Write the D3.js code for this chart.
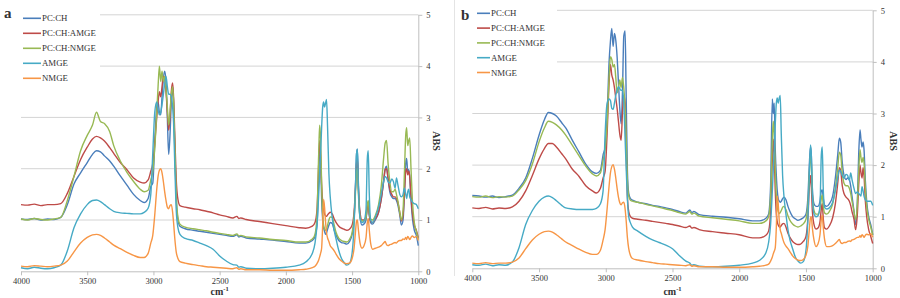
<!DOCTYPE html>
<html>
<head>
<meta charset="utf-8">
<script src="https://cdn.jsdelivr.net/npm/d3@7"></script>
<style>
  body { margin: 0; background: #fff; }
  text { font-family: "Liberation Serif", "Times New Roman", serif; fill: #333; }
</style>
</head>
<body>
<div id="chart"></div>
<script>
// wavenumber grid shared by both panels (cm-1)
const wavenumbers = [
  4000, 3950, 3900, 3850, 3800, 3750, 3700, 3650, 3600, 3550, 3500, 3460, 3430, 3400, 3370, 3330, 3300, 3250, 3200, 3150, 3100, 3070, 3040, 3020,
  3005, 2990, 2975, 2965, 2955, 2945, 2935, 2925, 2915, 2905, 2895, 2885, 2875, 2865, 2855, 2848, 2838, 2828, 2815, 2800,
  2760, 2700, 2650, 2600, 2550, 2500, 2450, 2400, 2370, 2355, 2340, 2300, 2200, 2100, 2000, 1900, 1850, 1800,
  1780, 1765, 1752, 1745, 1738, 1730, 1722, 1715, 1708, 1700, 1693, 1685, 1675, 1665, 1650, 1635, 1620, 1600, 1580, 1560, 1540, 1520, 1500,
  1485, 1475, 1466, 1460, 1452, 1440, 1425, 1410, 1395, 1385, 1378, 1370, 1360, 1345, 1325, 1300, 1280, 1262, 1250, 1240,
  1228, 1215, 1200, 1188, 1175, 1165, 1155, 1140, 1128, 1115, 1105, 1095, 1088, 1080, 1072, 1065, 1055, 1045, 1030, 1015, 1000
];

const seriesNames = ['PC:CH', 'PC:CH:AMGE', 'PC:CH:NMGE', 'AMGE', 'NMGE'];
const seriesColors = ['#4a7ebb', '#be4b48', '#98b954', '#46aac5', '#f79646'];
const xTicks = [4000, 3500, 3000, 2500, 2000, 1500, 1000];
const yTicks = [0, 1, 2, 3, 4, 5];

// panel a
const aPcCh = [
  1.02, 1.01, 1.03, 1.00, 1.02, 1.01, 1.05, 1.30, 1.70, 1.92, 2.12, 2.28, 2.35, 2.33, 2.25, 2.15, 2.05, 1.86, 1.68, 1.50, 1.38, 1.34, 1.42, 1.65,
  1.72, 2.50, 3.20, 3.30, 3.10, 3.05, 3.40, 3.75, 3.90, 3.70, 3.00, 2.28, 2.65, 3.30, 3.60, 3.30, 2.30, 1.45, 1.00, 0.88,
  0.83, 0.80, 0.78, 0.76, 0.74, 0.72, 0.70, 0.68, 0.71, 0.67, 0.68, 0.65, 0.63, 0.61, 0.58, 0.55, 0.55, 0.60,
  0.68, 0.90, 1.80, 2.45, 2.20, 1.40, 1.00, 0.85, 0.78, 0.72, 0.75, 0.82, 0.90, 0.95, 0.93, 0.80, 0.70, 0.60, 0.56, 0.55, 0.53, 0.58, 0.72,
  1.00, 1.60, 2.30, 2.38, 1.70, 1.05, 0.90, 0.92, 1.00, 1.25, 1.32, 1.10, 0.95, 0.92, 1.00, 1.15, 1.40, 1.75, 2.00, 2.05,
  1.80, 1.55, 1.45, 1.42, 1.42, 1.38, 1.30, 1.10, 0.90, 1.00, 1.50, 2.10, 2.20, 1.95, 1.98, 1.85, 1.40, 1.05, 0.80, 0.70, 0.50
];
const aPcChAmge = [
  1.30, 1.29, 1.31, 1.28, 1.30, 1.30, 1.32, 1.52, 1.85, 2.18, 2.42, 2.58, 2.63, 2.60, 2.54, 2.41, 2.30, 2.12, 1.98, 1.82, 1.74, 1.72, 1.78, 1.95,
  2.10, 2.50, 3.00, 3.30, 3.50, 3.40, 3.60, 3.80, 3.75, 3.50, 3.10, 2.75, 3.00, 3.50, 3.67, 3.40, 2.60, 1.80, 1.40, 1.28,
  1.25, 1.22, 1.20, 1.17, 1.14, 1.10, 1.07, 1.04, 1.07, 1.03, 1.04, 1.01, 0.97, 0.93, 0.89, 0.85, 0.84, 0.88,
  0.95, 1.20, 2.10, 2.55, 2.30, 1.70, 1.35, 1.20, 1.12, 1.08, 1.07, 1.10, 1.13, 1.15, 1.12, 1.02, 0.95, 0.88, 0.84, 0.82, 0.80, 0.82, 0.90,
  1.15, 1.60, 2.10, 2.20, 1.60, 1.15, 1.00, 1.00, 1.05, 1.25, 1.30, 1.10, 0.98, 0.95, 1.02, 1.15, 1.40, 1.75, 1.98, 2.00,
  1.80, 1.60, 1.50, 1.45, 1.45, 1.42, 1.35, 1.15, 0.98, 1.10, 1.50, 1.95, 2.00, 1.88, 1.95, 1.85, 1.45, 1.15, 0.90, 0.80, 0.65
];
const aPcChNmge = [
  1.02, 1.00, 1.03, 1.01, 1.00, 1.02, 1.05, 1.38, 1.85, 2.35, 2.65, 2.85, 3.10, 2.92, 2.88, 2.72, 2.45, 2.15, 1.93, 1.75, 1.60, 1.55, 1.58, 1.78,
  1.95, 2.40, 3.10, 3.60, 4.00, 3.70, 3.90, 3.70, 3.80, 3.55, 3.20, 2.85, 3.10, 3.45, 3.60, 3.30, 2.40, 1.50, 1.05, 0.92,
  0.86, 0.83, 0.81, 0.79, 0.76, 0.74, 0.72, 0.70, 0.73, 0.69, 0.70, 0.67, 0.65, 0.62, 0.60, 0.57, 0.57, 0.63,
  0.72, 1.10, 2.30, 2.85, 2.60, 1.70, 1.10, 0.90, 0.83, 0.80, 0.82, 0.90, 1.00, 1.06, 1.05, 0.90, 0.75, 0.64, 0.60, 0.58, 0.57, 0.62, 0.75,
  1.05, 1.50, 1.95, 2.00, 1.50, 1.05, 0.98, 0.98, 1.05, 1.30, 1.38, 1.15, 1.02, 1.00, 1.08, 1.30, 1.65, 2.20, 2.50, 2.55,
  2.10, 1.75, 1.55, 1.55, 1.60, 1.50, 1.38, 1.15, 1.00, 1.20, 1.90, 2.65, 2.80, 2.45, 2.55, 2.60, 2.00, 1.40, 0.95, 0.78, 0.62
];
const aAmge = [
  0.07, 0.05, 0.08, 0.06, 0.05, 0.07, 0.12, 0.40, 0.85, 1.12, 1.30, 1.38, 1.39, 1.36, 1.30, 1.22, 1.17, 1.14, 1.13, 1.12, 1.12, 1.15, 1.23, 1.50,
  2.30, 3.10, 3.30, 3.15, 3.05, 3.10, 3.25, 3.45, 3.65, 3.80, 3.60, 3.45, 3.45, 3.40, 3.20, 2.90, 2.00, 1.20, 0.85, 0.72,
  0.64, 0.60, 0.55, 0.50, 0.43, 0.30, 0.20, 0.13, 0.12, 0.08, 0.09, 0.06, 0.05, 0.06, 0.08, 0.12, 0.18, 0.35,
  0.55, 0.90, 1.50, 1.90, 2.30, 2.80, 3.20, 3.30, 3.20, 3.28, 3.35, 2.80, 1.90, 1.45, 1.05, 0.80, 0.62, 0.40, 0.25, 0.17, 0.12, 0.15, 0.35,
  0.90, 1.60, 2.30, 2.38, 1.60, 1.05, 0.95, 0.98, 1.20, 2.20, 2.35, 1.50, 1.00, 0.95, 1.05, 1.25, 1.50, 1.75, 1.85, 1.82,
  1.75, 1.72, 1.80, 1.75, 1.62, 1.82, 1.70, 1.50, 1.45, 1.50, 1.62, 1.50, 1.42, 1.55, 1.60, 1.45, 1.40, 1.35, 1.32, 1.30, 1.22
];
const aNmge = [
  0.10, 0.09, 0.11, 0.10, 0.09, 0.10, 0.12, 0.20, 0.38, 0.55, 0.66, 0.71, 0.72, 0.70, 0.65, 0.57, 0.51, 0.44, 0.37, 0.31, 0.27, 0.27, 0.35, 0.55,
  0.70, 1.10, 1.60, 1.85, 1.97, 2.00, 1.92, 1.75, 1.55, 1.38, 1.25, 1.22, 1.28, 1.30, 1.15, 0.95, 0.62, 0.38, 0.25, 0.19,
  0.16, 0.13, 0.11, 0.09, 0.08, 0.07, 0.06, 0.05, 0.07, 0.04, 0.05, 0.03, 0.03, 0.02, 0.02, 0.03, 0.04, 0.07,
  0.10, 0.15, 0.22, 0.28, 0.35, 0.45, 0.90, 1.40, 1.25, 0.95, 0.75, 0.65, 0.58, 0.50, 0.45, 0.40, 0.33, 0.25, 0.20, 0.16, 0.15, 0.16, 0.25,
  0.45, 0.75, 0.98, 1.00, 0.80, 0.55, 0.45, 0.50, 0.65, 0.95, 1.03, 0.80, 0.55, 0.43, 0.45, 0.47, 0.50, 0.55, 0.58, 0.52,
  0.50, 0.52, 0.53, 0.55, 0.56, 0.55, 0.58, 0.60, 0.60, 0.63, 0.62, 0.66, 0.62, 0.68, 0.65, 0.62, 0.66, 0.69, 0.66, 0.68, 0.60
];

// panel b
const bPcCh = [
  1.41, 1.40, 1.38, 1.40, 1.37, 1.39, 1.42, 1.55, 1.75, 2.13, 2.58, 2.88, 3.02, 3.00, 2.95, 2.82, 2.72, 2.48, 2.25, 2.02, 1.87, 1.84, 1.90, 2.20,
  2.35, 2.90, 4.00, 4.40, 4.65, 4.30, 4.55, 4.42, 4.10, 3.60, 3.10, 2.80, 3.40, 4.50, 4.60, 3.50, 1.90, 1.45, 1.35, 1.32,
  1.28, 1.25, 1.22, 1.20, 1.17, 1.14, 1.10, 1.07, 1.13, 1.08, 1.10, 1.04, 1.01, 0.99, 0.96, 0.92, 0.92, 0.97,
  1.05, 1.60, 3.28, 3.00, 3.20, 2.30, 1.80, 1.50, 1.35, 1.30, 1.28, 1.30, 1.35, 1.38, 1.33, 1.20, 1.10, 1.00, 0.96, 0.93, 0.95, 0.98, 1.05,
  1.40, 2.00, 2.35, 2.20, 1.55, 1.25, 1.20, 1.20, 1.30, 1.50, 1.52, 1.35, 1.22, 1.20, 1.25, 1.40, 1.75, 2.20, 2.52, 2.45,
  2.05, 1.80, 1.72, 1.75, 1.72, 1.60, 1.40, 1.10, 0.85, 1.30, 2.20, 2.68, 2.50, 2.35, 2.45, 2.30, 1.70, 1.30, 1.00, 0.85, 0.65
];
const bPcChAmge = [
  1.17, 1.16, 1.18, 1.15, 1.17, 1.16, 1.19, 1.30, 1.50, 1.80, 2.12, 2.32, 2.42, 2.42, 2.35, 2.22, 2.12, 1.92, 1.78, 1.60, 1.50, 1.46, 1.55, 1.75,
  1.88, 2.60, 3.60, 3.95, 3.75, 3.65, 3.50, 3.30, 3.10, 2.85, 2.60, 2.48, 3.00, 3.35, 3.20, 2.40, 1.40, 1.10, 1.00, 0.97,
  0.95, 0.93, 0.91, 0.89, 0.87, 0.85, 0.82, 0.79, 0.82, 0.78, 0.79, 0.75, 0.71, 0.68, 0.65, 0.59, 0.59, 0.64,
  0.72, 1.10, 2.10, 2.50, 2.20, 1.50, 1.05, 0.90, 0.84, 0.80, 0.80, 0.83, 0.86, 0.87, 0.80, 0.68, 0.60, 0.52, 0.48, 0.46, 0.47, 0.52, 0.62,
  1.00, 1.55, 1.80, 1.60, 1.10, 0.85, 0.76, 0.78, 0.90, 1.15, 1.25, 0.95, 0.78, 0.76, 0.82, 0.98, 1.25, 1.65, 1.95, 1.90,
  1.60, 1.45, 1.38, 1.35, 1.30, 1.22, 1.10, 0.95, 0.75, 1.05, 1.60, 2.00, 1.85, 1.75, 1.95, 1.80, 1.30, 1.00, 0.75, 0.62, 0.48
];
const bPcChNmge = [
  1.39, 1.38, 1.40, 1.37, 1.39, 1.38, 1.40, 1.52, 1.70, 2.02, 2.45, 2.72, 2.85, 2.83, 2.78, 2.68, 2.58, 2.38, 2.18, 1.98, 1.83, 1.79, 1.85, 2.10,
  2.30, 2.80, 3.70, 4.10, 4.05, 3.90, 3.95, 3.70, 3.40, 3.50, 3.65, 3.50, 3.70, 3.50, 3.10, 2.60, 1.70, 1.40, 1.32, 1.30,
  1.28, 1.24, 1.21, 1.18, 1.15, 1.12, 1.08, 1.05, 1.10, 1.05, 1.07, 1.01, 0.98, 0.95, 0.92, 0.87, 0.87, 0.92,
  1.00, 1.40, 2.50, 2.85, 2.60, 1.90, 1.40, 1.20, 1.10, 1.06, 1.08, 1.12, 1.18, 1.20, 1.14, 1.02, 0.93, 0.86, 0.82, 0.80, 0.82, 0.86, 0.95,
  1.25, 1.80, 2.20, 2.05, 1.45, 1.12, 1.05, 1.05, 1.15, 1.35, 1.42, 1.20, 1.07, 1.05, 1.10, 1.25, 1.55, 1.95, 2.25, 2.20,
  1.85, 1.65, 1.60, 1.60, 1.55, 1.45, 1.30, 1.10, 0.95, 1.25, 1.85, 2.30, 2.15, 2.05, 2.15, 2.05, 1.55, 1.20, 0.95, 0.80, 0.65
];
const bAmge = [
  0.07, 0.06, 0.08, 0.05, 0.07, 0.06, 0.12, 0.40, 0.85, 1.12, 1.30, 1.38, 1.40, 1.37, 1.31, 1.22, 1.17, 1.15, 1.14, 1.14, 1.14, 1.16, 1.25, 1.50,
  2.60, 3.20, 3.28, 3.25, 3.10, 3.08, 3.20, 3.35, 3.45, 3.52, 3.48, 3.45, 3.45, 3.20, 2.50, 2.00, 1.35, 1.00, 0.88, 0.80,
  0.72, 0.62, 0.55, 0.50, 0.45, 0.38, 0.25, 0.14, 0.10, 0.06, 0.07, 0.04, 0.03, 0.04, 0.06, 0.10, 0.15, 0.30,
  0.50, 0.85, 1.50, 1.90, 2.30, 2.80, 3.20, 3.30, 3.20, 3.30, 3.35, 2.60, 1.80, 1.40, 1.05, 0.75, 0.55, 0.38, 0.22, 0.14, 0.10, 0.13, 0.35,
  1.00, 1.80, 2.39, 2.20, 1.40, 1.05, 1.00, 1.02, 1.20, 2.20, 2.35, 1.50, 1.18, 1.15, 1.17, 1.28, 1.50, 1.75, 1.90, 1.88,
  1.80, 1.75, 1.82, 1.80, 1.70, 1.85, 1.72, 1.55, 1.45, 1.48, 1.45, 1.42, 1.40, 1.58, 1.50, 1.40, 1.33, 1.30, 1.30, 1.30, 1.22
];
const bNmge = [
  0.10, 0.09, 0.11, 0.09, 0.10, 0.10, 0.12, 0.20, 0.38, 0.55, 0.66, 0.71, 0.72, 0.70, 0.65, 0.57, 0.51, 0.44, 0.37, 0.31, 0.27, 0.27, 0.35, 0.55,
  0.75, 1.15, 1.60, 1.85, 1.97, 2.01, 1.92, 1.75, 1.55, 1.38, 1.27, 1.23, 1.27, 1.28, 1.15, 0.95, 0.60, 0.38, 0.25, 0.19,
  0.16, 0.13, 0.11, 0.09, 0.08, 0.07, 0.06, 0.05, 0.07, 0.04, 0.05, 0.03, 0.03, 0.02, 0.02, 0.03, 0.04, 0.06,
  0.08, 0.14, 0.22, 0.28, 0.33, 0.40, 0.80, 1.40, 1.25, 0.92, 0.75, 0.68, 0.58, 0.50, 0.43, 0.38, 0.32, 0.24, 0.19, 0.16, 0.15, 0.17, 0.25,
  0.45, 0.75, 0.98, 1.00, 0.78, 0.55, 0.42, 0.47, 0.65, 0.95, 1.03, 0.78, 0.55, 0.42, 0.42, 0.44, 0.48, 0.53, 0.56, 0.50,
  0.48, 0.50, 0.50, 0.52, 0.53, 0.52, 0.55, 0.56, 0.58, 0.60, 0.60, 0.63, 0.60, 0.65, 0.63, 0.60, 0.64, 0.66, 0.65, 0.67, 0.60
];

const panels = [
  { label: 'a', left: 21, right: 418.3, bottom: 271.3, top: 14.8,
    legend: { x: 19, y: 6, w: 81, h: 82, lineX: 23, lineW: 18, firstY: 18.3, step: 15 },
    labelX: 4, labelY: 18, absX: 436,
    series: [aPcCh, aPcChAmge, aPcChNmge, aAmge, aNmge] },
  { label: 'b', left: 472.3, right: 872.7, bottom: 268.3, top: 10.3,
    legend: { x: 470, y: 2, w: 87, h: 80, lineX: 477, lineW: 13, firstY: 13.3, step: 14.8 },
    labelX: 461, labelY: 20, absX: 893,
    series: [bPcCh, bPcChAmge, bPcChNmge, bAmge, bNmge] }
];

const svg = d3.select('#chart').append('svg')
  .attr('width', 900)
  .attr('height', 298)
  .style('background', '#fff');

// faint frame edge between the two figures
svg.append('line')
  .attr('x1', 454.5).attr('x2', 454.5)
  .attr('y1', 0).attr('y2', 276)
  .attr('stroke', '#e4e4e4');

function drawPanel(p) {
  const x = d3.scaleLinear().domain([4000, 1000]).range([p.left, p.right]);
  const y = d3.scaleLinear().domain([0, 5]).range([p.bottom, p.top]);
  const g = svg.append('g');

  // gridlines
  g.selectAll('.grid')
    .data(yTicks.filter(d => d > 0))
    .enter().append('line')
    .attr('class', 'grid')
    .attr('x1', p.left).attr('x2', p.right)
    .attr('y1', d => y(d)).attr('y2', d => y(d))
    .attr('stroke', '#d4d4d4');

  // x axis
  const xAxis = g.append('g')
    .attr('transform', `translate(0,${p.bottom})`)
    .call(d3.axisBottom(x).tickValues(xTicks).tickSize(4).tickSizeOuter(0).tickPadding(3).tickFormat(d3.format('d')));
  xAxis.select('.domain').attr('stroke', '#bfbfbf');
  xAxis.selectAll('.tick line').attr('stroke', '#bfbfbf');
  xAxis.selectAll('text').attr('font-size', 8.5).attr('font-family', '"Liberation Serif", serif').attr('fill', '#333');

  // y axis on the right
  const yAxis = g.append('g')
    .attr('transform', `translate(${p.right},0)`)
    .call(d3.axisRight(y).tickValues(yTicks).tickSize(4).tickSizeOuter(0).tickPadding(4).tickFormat(d3.format('d')));
  yAxis.select('.domain').attr('stroke', '#bfbfbf');
  yAxis.selectAll('.tick line').attr('stroke', '#bfbfbf');
  yAxis.selectAll('text').attr('font-size', 8.5).attr('font-family', '"Liberation Serif", serif').attr('fill', '#333');

  // spectra
  const line = d3.line()
    .x((d, i) => x(wavenumbers[i]))
    .y(d => y(d))
    .curve(d3.curveMonotoneX);

  g.selectAll('.spectrum')
    .data(p.series)
    .enter().append('path')
    .attr('class', 'spectrum')
    .attr('d', d => line(d))
    .attr('fill', 'none')
    .attr('stroke', (d, i) => seriesColors[i])
    .attr('stroke-width', 1.4)
    .attr('stroke-linejoin', 'round');

  // legend (white box hides the upper gridlines)
  const L = p.legend;
  g.append('rect')
    .attr('x', L.x).attr('y', L.y)
    .attr('width', L.w).attr('height', L.h)
    .attr('fill', '#fff');
  const items = g.selectAll('.legend-item')
    .data(seriesNames)
    .enter().append('g')
    .attr('class', 'legend-item')
    .attr('transform', (d, i) => `translate(0,${L.firstY + i * L.step})`);
  items.append('line')
    .attr('x1', L.lineX).attr('x2', L.lineX + L.lineW)
    .attr('stroke', (d, i) => seriesColors[i])
    .attr('stroke-width', 1.6);
  items.append('text')
    .attr('x', L.lineX + L.lineW + 1)
    .attr('dy', '0.35em')
    .attr('font-size', 8.8)
    .text(d => d);

  // panel letter
  g.append('text')
    .attr('x', p.labelX).attr('y', p.labelY)
    .attr('font-size', 15)
    .attr('font-weight', 'bold')
    .attr('fill', '#111')
    .text(p.label);

  // axis titles
  g.append('text')
    .attr('transform', `translate(${p.absX},${141}) rotate(90)`)
    .attr('text-anchor', 'middle')
    .attr('dy', '0.35em')
    .attr('font-size', 10)
    .attr('font-weight', 'bold')
    .attr('fill', '#222')
    .text('ABS');

  const unit = g.append('text')
    .attr('x', (p.left + p.right) / 2)
    .attr('y', 295)
    .attr('text-anchor', 'middle')
    .attr('font-size', 10)
    .attr('font-weight', 'bold')
    .attr('fill', '#222');
  unit.append('tspan').text('cm');
  unit.append('tspan').attr('dy', -4).attr('font-size', 6.5).text('-1');
}

panels.forEach(drawPanel);
</script>
</body>
</html>
